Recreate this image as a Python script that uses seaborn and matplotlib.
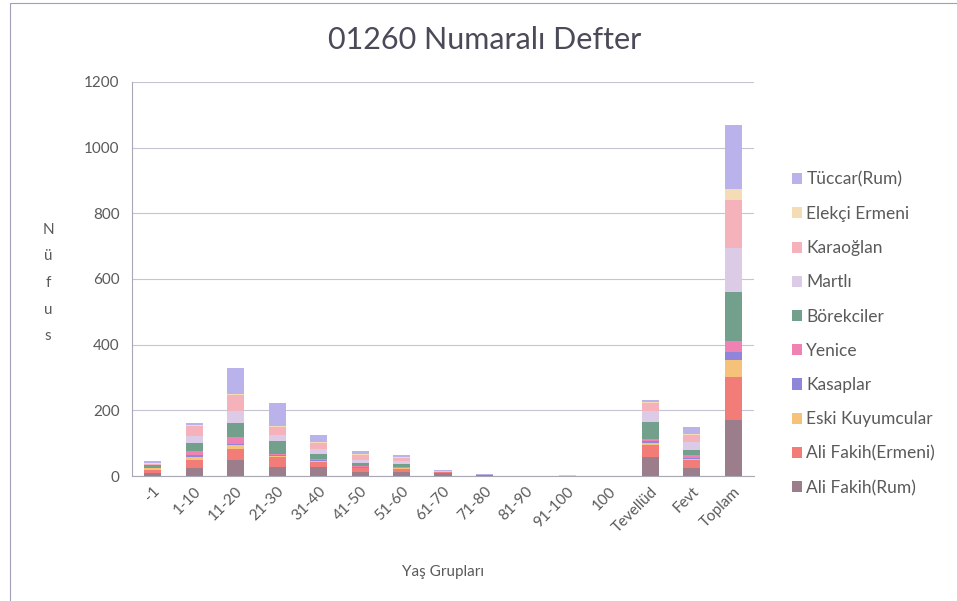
import numpy as np
import pandas as pd
import matplotlib
matplotlib.use("Agg")
import matplotlib.pyplot as plt
from matplotlib.patches import Patch, Rectangle
import seaborn as sns

# kategoriler (x ekseni)
categories = ["-1", "1-10", "11-20", "21-30", "31-40", "41-50", "51-60", "61-70",
              "71-80", "81-90", "91-100", "100", "Tevellüd", "Fevt", "Toplam"]

# seriler (alttan üste)
ali_fakih_rum    = [10, 23, 50, 26, 26, 13, 13, 10, 3, 0, 0, 0, 58, 23, 170]
ali_fakih_ermeni = [8, 25, 33, 32, 17, 10, 9, 2, 0, 0, 0, 0, 35, 25, 132]
eski_kuyumcular  = [6, 10, 12, 3, 3, 2, 2, 0, 0, 0, 0, 0, 7, 5, 51]
kasaplar         = [2, 5, 3, 2, 2, 1, 1, 0, 0, 0, 0, 0, 6, 2, 25]
yenice           = [2, 13, 22, 5, 5, 4, 3, 0, 0, 0, 0, 0, 7, 8, 34]
borekciler       = [4, 24, 40, 38, 15, 10, 10, 0, 0, 0, 0, 0, 50, 17, 149]
martli           = [3, 23, 38, 20, 15, 10, 7, 3, 0, 0, 2, 0, 35, 23, 132]
karaoglan        = [3, 30, 49, 22, 19, 13, 11, 0, 0, 0, 0, 0, 25, 22, 147]
elekci_ermeni    = [1, 3, 4, 5, 3, 3, 2, 0, 0, 0, 0, 0, 3, 3, 33]
tuccar_rum       = [7, 5, 77, 70, 21, 10, 5, 3, 2, 0, 2, 0, 5, 20, 196]

series_names = ["Ali Fakih(Rum)", "Ali Fakih(Ermeni)", "Eski Kuyumcular", "Kasaplar",
                "Yenice", "Börekciler", "Martlı", "Karaoğlan", "Elekçi Ermeni", "Tüccar(Rum)"]
series_values = [ali_fakih_rum, ali_fakih_ermeni, eski_kuyumcular, kasaplar, yenice,
                 borekciler, martli, karaoglan, elekci_ermeni, tuccar_rum]
series_colors = ["#9c7d8c", "#f27c78", "#f6c27a", "#8f86dc", "#ef82b2",
                 "#72a08d", "#dccbe6", "#f5b2ba", "#f6dcb4", "#bab2ea"]

sns.set_style("white")
plt.rcParams["font.family"] = ["Lato", "DejaVu Sans"]

fig = plt.figure(figsize=(9.57, 6.01), dpi=100)
ax = fig.add_axes([132 / 957, 1 - 476 / 601, 622 / 957, 394 / 601])

# yığılmış çubuklar: kümülatif toplamları üstten alta doğru üst üste çiz
df = pd.DataFrame(dict(zip(series_names, series_values)), index=categories)
cum = df.cumsum(axis=1)
for name, color in zip(reversed(series_names), reversed(series_colors)):
    sns.barplot(x=categories, y=cum[name].values, order=categories, color=color,
                saturation=1, width=0.41, ax=ax, linewidth=0)

ax.set_ylim(0, 1200)
ax.set_xlim(-0.5, len(categories) - 0.5)
ax.set_yticks(np.arange(0, 1201, 200))
ax.yaxis.grid(True, color="#c4c4d2", linewidth=0.8)
ax.set_axisbelow(True)

for s in ["top", "right"]:
    ax.spines[s].set_visible(False)
for s in ["left", "bottom"]:
    ax.spines[s].set_color("#a8a8b4")
    ax.spines[s].set_linewidth(0.8)

ax.tick_params(axis="y", length=5, color="#a8a8b4", labelsize=11, labelcolor="#5a5a5a", pad=4)
ax.tick_params(axis="x", which="major", length=0, labelsize=11, labelcolor="#5a5a5a", pad=6)
ax.set_xticks(np.arange(-0.5, len(categories), 1), minor=True)
ax.tick_params(axis="x", which="minor", length=5, color="#a8a8b4")
ax.set_xticks(range(len(categories)))
ax.set_xticklabels(categories, rotation=45, ha="right", rotation_mode="anchor")

ax.set_xlabel("Yaş Grupları", fontsize=11, color="#5a5a5a", labelpad=22)
ax.set_ylabel("")
fig.text(48 / 957, 1 - 283 / 601, "N\nü\nf\nu\ns", ha="center", va="center",
         fontsize=11, color="#5a5a5a", linespacing=2.15)

fig.text(485 / 957, 1 - 40 / 601, "01260 Numaralı Defter", ha="center", va="center",
         fontsize=22, color="#4a4a58")

handles = [Patch(facecolor=c, edgecolor="none") for c in reversed(series_colors)]
fig.legend(handles, list(reversed(series_names)), loc="upper left",
           bbox_to_anchor=(776 / 957, 1 - 156 / 601), frameon=False, fontsize=12.5,
           labelcolor="#5a5a5a", handlelength=0.6, handleheight=0.6,
           handletextpad=0.25, labelspacing=1.05)

# grafik çerçevesi
fig.patches.append(Rectangle((10 / 957, -0.05), 1.2, 1.05 - 3 / 601, transform=fig.transFigure,
                             fill=False, edgecolor="#a0a0b8", linewidth=0.8))

fig.savefig("out.png", dpi=100)
